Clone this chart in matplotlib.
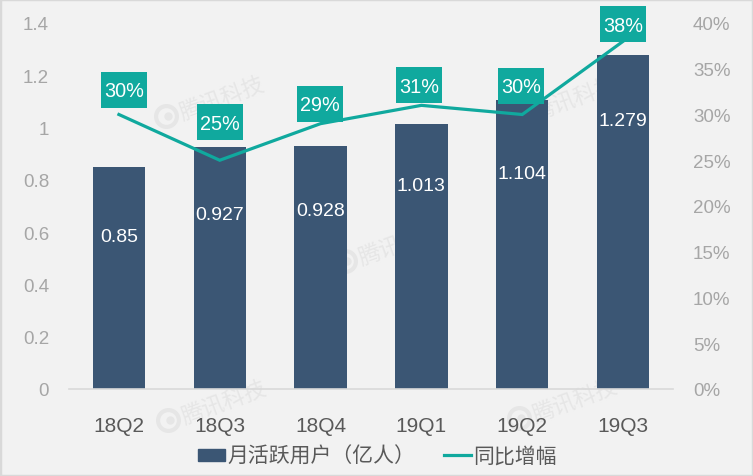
import matplotlib
matplotlib.use('Agg')
import matplotlib.pyplot as plt
from matplotlib.lines import Line2D
from matplotlib.patches import Patch, Rectangle
from matplotlib.transforms import Affine2D

plt.rcParams['font.family'] = ['Liberation Sans', 'Noto Sans CJK SC']

quarters = ['18Q2', '18Q3', '18Q4', '19Q1', '19Q2', '19Q3']
users = [0.85, 0.927, 0.928, 1.013, 1.104, 1.279]
growth = [30, 25, 29, 31, 30, 38]
left_ticks = [0, 0.2, 0.4, 0.6, 0.8, 1, 1.2, 1.4]
right_ticks = [0, 5, 10, 15, 20, 25, 30, 35, 40]

BG = '#F2F2F2'
BAR = '#3B5674'
TEAL = '#10A99E'
GRID = '#D9D9D9'
GRAY = '#A6A6A6'
DARK = '#595959'
WATERMARK = '#E6E6E6'
W, H = 753, 477


def px_x(x):
    return x / W


def px_y(y):
    return 1 - y / H


def add_watermark(fig, x, y):
    # faint logo + text, sits behind the bars
    fig.text(px_x(x), px_y(y), '腾讯科技', color=WATERMARK, fontsize=16,
             rotation=20, ha='center', va='center', zorder=-1)
    fig.add_artist(Line2D([px_x(x - 57)], [px_y(y + 17)], marker='o', ms=15,
                          mfc='none', mec=WATERMARK, mew=3, zorder=-1))
    fig.add_artist(Line2D([px_x(x - 55)], [px_y(y + 17)], marker='o', ms=5,
                          mfc=WATERMARK, mec=WATERMARK, zorder=-1))


def main():
    fig = plt.figure(figsize=(W / 100, H / 100), dpi=100, facecolor=BG)
    fig.add_artist(Rectangle((0, 0), 1, 1, transform=fig.transFigure,
                             fill=False, ec=GRID, lw=2.5, zorder=-1))
    for x, y in [(223, 100), (576, 100), (402, 245), (225, 404), (576, 402)]:
        add_watermark(fig, x, y)

    ax = fig.add_axes([px_x(68.5), px_y(390), px_x(605), 366 / H])
    ax.patch.set_visible(False)
    xs = range(len(quarters))
    ax.bar(xs, users, width=0.52, color=BAR)
    ax.set_xlim(-0.5, 5.5)
    ax.set_ylim(0, 1.4)
    ax.set_yticks(left_ticks, [f'{t:g}' for t in left_ticks])
    ax.set_xticks(list(xs), quarters)
    ax.tick_params(axis='y', length=0, pad=14, labelsize=13.5, labelcolor=GRAY)
    ax.tick_params(axis='x', length=0, pad=19.5, labelsize=15, labelcolor=DARK)
    for side in ['top', 'left', 'right']:
        ax.spines[side].set_visible(False)
    ax.spines['bottom'].set_color(GRID)
    ax.spines['bottom'].set_linewidth(1.2)

    ax2 = ax.twinx()
    ax2.plot(xs, growth, color=TEAL, lw=2.3, solid_joinstyle='miter')
    ax2.set_ylim(0, 40)
    ax2.set_yticks(right_ticks, [f'{t}%' for t in right_ticks])
    ax2.tick_params(axis='y', length=0, pad=14, labelsize=13.5, labelcolor=GRAY)
    for spine in ax2.spines.values():
        spine.set_visible(False)

    # label offsets in pixels
    bar_offsets = [-70, -68, -64, -61, -73, -66]
    for x, v, dy in zip(xs, users, bar_offsets):
        ax2.annotate(f'{v:g}', xy=(x, v * 40 / 1.4), xytext=(0, dy * 0.72),
                     textcoords='offset points', ha='center', va='center',
                     color='white', fontsize=14)

    box_offsets = [(5, 25), (0, 38), (-1, 20), (-2, 20), (-1, 29), (0, 17)]
    box_w, box_h = 46, 36
    for x, g, (dx, dy) in zip(xs, growth, box_offsets):
        px, py = ax2.transData.transform((x, g))
        box = Rectangle((dx - box_w / 2, dy - box_h / 2), box_w, box_h,
                        fc=TEAL, ec='none', zorder=4, clip_on=False,
                        transform=Affine2D().translate(px, py))
        ax2.add_patch(box)
        ax2.annotate(f'{g}%', xy=(x, g), xytext=(dx * 0.72, (dy - 1) * 0.72),
                     textcoords='offset points', ha='center', va='center',
                     color='white', fontsize=14.3, zorder=5)

    handles = [Patch(color=BAR), Line2D([0], [0], color=TEAL, lw=2.3)]
    fig.legend(handles, ['月活跃用户（亿人）', '同比增幅'], ncols=2, frameon=False,
               loc='center', bbox_to_anchor=(px_x(377.5), px_y(457)), fontsize=15,
               labelcolor=DARK, handlelength=1.3, handleheight=0.5,
               handletextpad=0.1, columnspacing=1.4, borderpad=0)

    fig.savefig('out.png', dpi=100, facecolor=BG)


main()
